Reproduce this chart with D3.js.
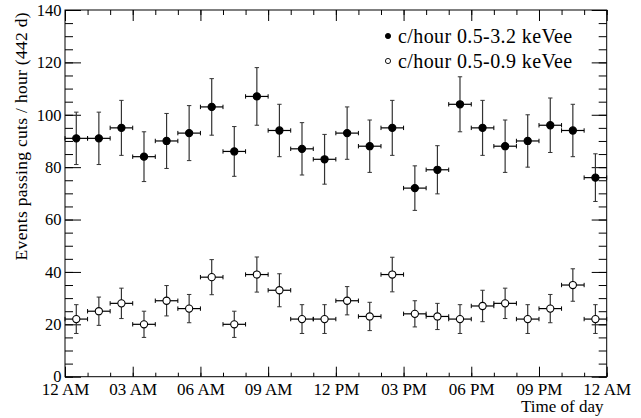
<!DOCTYPE html>
<html lang="en">
<head>
<meta charset="UTF-8">
<title>Events per hour of day</title>
<script src="https://d3js.org/d3.v7.min.js"></script>
<style>
  body { margin: 0; background: #fff; }
  .axis path { display: none; }
  .axis line { stroke: #000; stroke-width: 1; }
</style>
</head>
<body>
<div id="grafico"></div>
<script>
// hour bins (bin centres), 24 one-hour bins
const hours = [0.5, 1.5, 2.5, 3.5, 4.5, 5.5, 6.5, 7.5, 8.5, 9.5, 10.5, 11.5,
               12.5, 13.5, 14.5, 15.5, 16.5, 17.5, 18.5, 19.5, 20.5, 21.5, 22.5, 23.5];

// c/hour 0.5-3.2 keVee (filled)
const rateWide = [91, 91, 95, 84, 90, 93, 103, 86, 107, 94, 87, 83,
                  93, 88, 95, 72, 79, 104, 95, 88, 90, 96, 94, 76];
const errWide = [10, 10, 10.5, 9.5, 10.5, 10.5, 10.8, 9.5, 11, 10, 10, 9.5,
                 10, 10, 10.5, 8.5, 9.2, 10.5, 10.5, 10, 10, 10.4, 10, 9.1];

// c/hour 0.5-0.9 keVee (open)
const rateLow = [22, 25, 28, 20, 29, 26, 38, 20, 39, 33, 22, 22,
                 29, 23, 39, 24, 23, 22, 27, 28, 22, 26, 35, 22];
const errLow = [5.5, 5.4, 5.8, 5, 5.8, 5.4, 6.7, 5, 6.7, 6.3, 5.5, 5.5,
                5.4, 5.4, 6.6, 5, 5, 5.5, 6, 5.8, 5.5, 5.4, 6.2, 5.5];

const xTickHours = [0, 3, 6, 9, 12, 15, 18, 21, 24];
const xTickLabels = ["12 AM", "03 AM", "06 AM", "09 AM", "12 PM", "03 PM", "06 PM", "09 PM", "12 AM"];
const yTicks = [0, 20, 40, 60, 80, 100, 120, 140];
const legendLabels = ["c/hour 0.5-3.2 keVee", "c/hour 0.5-0.9 keVee"];

const FONT = "'Liberation Serif', 'DejaVu Serif', serif";

const width = 641, height = 418;
const margin = { top: 10, right: 34.3, bottom: 41.3, left: 65 };
const w = width - margin.left - margin.right;
const h = height - margin.top - margin.bottom;

const svg = d3.select("#grafico").append("svg")
  .attr("width", width).attr("height", height);
const g = svg.append("g").attr("transform", `translate(${margin.left},${margin.top})`);

const x = d3.scaleLinear().domain([0, 24]).range([0, w]);
const y = d3.scaleLinear().domain([0, 140]).range([h, 0]);

const minorX = d3.range(0, 25, 1);
const minorY = d3.range(0, 141, 5);

// eixos - ticks para dentro
g.append("g").attr("class", "axis").attr("transform", `translate(0,${h})`)
  .call(d3.axisBottom(x).tickValues(minorX).tickSize(-4).tickFormat(""));
g.append("g").attr("class", "axis x-major").attr("transform", `translate(0,${h})`)
  .call(d3.axisBottom(x).tickValues(xTickHours).tickSize(-10).tickPadding(6)
    .tickFormat((d, i) => xTickLabels[i]))
  .attr("font-family", FONT).attr("font-size", 17)
  .selectAll("text").attr("y", 6).attr("fill", "#000");

g.append("g").attr("class", "axis")
  .call(d3.axisTop(x).tickValues(minorX).tickSize(-5).tickFormat(""));
g.append("g").attr("class", "axis")
  .call(d3.axisTop(x).tickValues(xTickHours).tickSize(-11).tickFormat(""));

g.append("g").attr("class", "axis")
  .call(d3.axisLeft(y).tickValues(minorY).tickSize(-8).tickFormat(""));
g.append("g").attr("class", "axis")
  .call(d3.axisLeft(y).tickValues(yTicks).tickSize(-16).tickPadding(3.5))
  .attr("font-family", FONT).attr("font-size", 16.5)
  .selectAll("text").attr("fill", "#000");

g.append("g").attr("class", "axis").attr("transform", `translate(${w},0)`)
  .call(d3.axisRight(y).tickValues(minorY).tickSize(-8).tickFormat(""));
g.append("g").attr("class", "axis").attr("transform", `translate(${w},0)`)
  .call(d3.axisRight(y).tickValues(yTicks).tickSize(-15).tickFormat(""));

g.append("rect").attr("width", w).attr("height", h)
  .attr("fill", "none").attr("stroke", "#000").attr("stroke-width", 1);

// titulos
svg.append("text")
  .attr("transform", `translate(27,${margin.top + 2}) rotate(-90)`)
  .attr("text-anchor", "end")
  .attr("font-family", FONT).attr("font-size", 17.5)
  .attr("letter-spacing", 0.3)
  .text("Events passing cuts / hour (442 d)");

svg.append("text")
  .attr("x", 603.5).attr("y", 411.5)
  .attr("text-anchor", "end")
  .attr("font-family", FONT).attr("font-size", 17)
  .text("Time of day");

// series
function drawSeries(values, errors, filled) {
  const s = g.append("g");
  const half = 0.5;
  const cap = 2.2;
  hours.forEach((hr, i) => {
    const cx = x(hr), cy = y(values[i]);
    const y1 = y(values[i] + errors[i]), y2 = y(values[i] - errors[i]);
    const xl = x(hr - half), xr = x(hr + half);
    // barra vertical
    s.append("line").attr("x1", cx).attr("x2", cx).attr("y1", y1).attr("y2", y2)
      .attr("stroke", "#333").attr("stroke-width", 1.2);
    s.append("line").attr("x1", cx - cap).attr("x2", cx + cap).attr("y1", y1).attr("y2", y1)
      .attr("stroke", "#333").attr("stroke-width", 1);
    s.append("line").attr("x1", cx - cap).attr("x2", cx + cap).attr("y1", y2).attr("y2", y2)
      .attr("stroke", "#333").attr("stroke-width", 1);
    // barra horizontal
    s.append("line").attr("x1", xl).attr("x2", xr).attr("y1", cy).attr("y2", cy)
      .attr("stroke", "#000").attr("stroke-width", 1.2);
    s.append("line").attr("x1", xl).attr("x2", xl).attr("y1", cy - cap).attr("y2", cy + cap)
      .attr("stroke", "#000").attr("stroke-width", 1);
    s.append("line").attr("x1", xr).attr("x2", xr).attr("y1", cy - cap).attr("y2", cy + cap)
      .attr("stroke", "#000").attr("stroke-width", 1);
    s.append("circle").attr("cx", cx).attr("cy", cy).attr("r", 3.6)
      .attr("fill", filled ? "#000" : "#fff")
      .attr("stroke", "#000").attr("stroke-width", 1.1);
  });
}
drawSeries(rateWide, errWide, true);
drawSeries(rateLow, errLow, false);

// legenda
const legend = svg.append("g").attr("font-family", FONT).attr("font-size", 20)
  .attr("letter-spacing", 0.4);
legendLabels.forEach((lab, i) => {
  const ly = 36 + i * 25;
  legend.append("circle").attr("cx", 388).attr("cy", ly).attr("r", 2.6)
    .attr("fill", i === 0 ? "#000" : "#fff").attr("stroke", "#000").attr("stroke-width", 0.9);
  legend.append("text").attr("x", 398).attr("y", ly + 6.5).text(lab);
});
</script>
</body>
</html>
